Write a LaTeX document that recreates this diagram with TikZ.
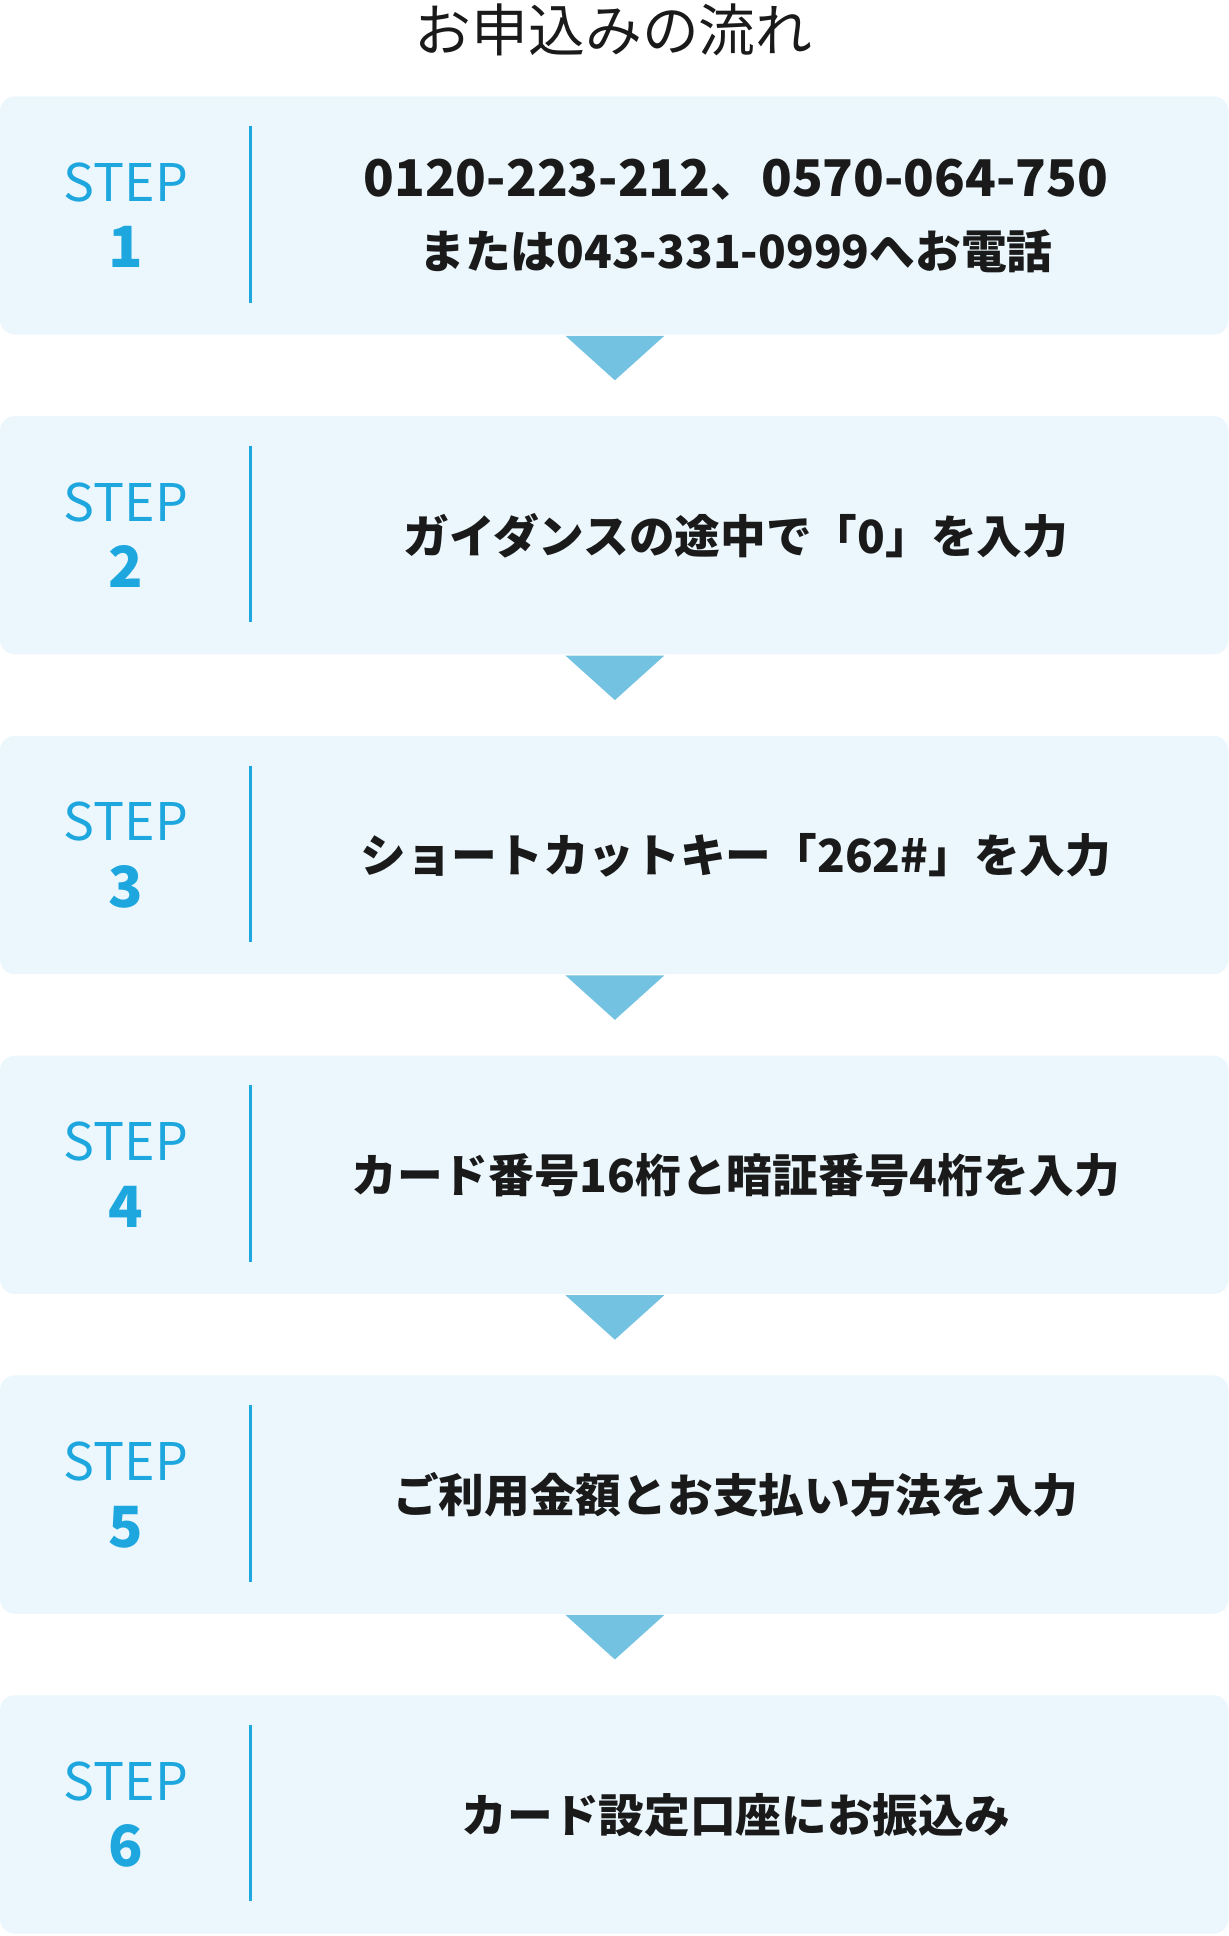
\documentclass[tikz,border=0pt]{standalone}
\usepackage{fontspec}
\newfontfamily\jp{Noto Sans CJK JP}
\definecolor{boxc}{HTML}{EBF7FC}
\definecolor{bluec}{HTML}{1DA7DE}
\definecolor{tric}{HTML}{74C2E1}
\definecolor{txt}{HTML}{1A1A1A}
\begin{document}
\begin{tikzpicture}[x=1pt,y=-1pt,
  box/.style={fill=boxc,rounded corners=12pt,draw=none},
  steplbl/.style={font=\jp\fontsize{42}{44}\selectfont,text=bluec,anchor=base},
  num/.style={font=\jp\bfseries\fontsize{46}{48}\selectfont,text=bluec,anchor=base},
  main/.style={font=\jp\bfseries\fontsize{37}{58}\selectfont,text=txt,align=center},
  tri/.style={fill=tric,draw=none}]
\useasboundingbox (0,0) rectangle (995,1568);
\node[font=\jp\fontsize{46}{48}\selectfont,text=txt] (title) at (497,24) {お申込みの流れ};
\foreach \i/\t in {1/{\fontsize{41}{58}\selectfont 0120-223-212、0570-064-750\\\fontsize{37}{58}\selectfont または043-331-0999へお電話},
  2/{ガイダンスの途中で「0」を入力},
  3/{ショートカットキー「262\#」を入力},
  4/{カード番号16桁と暗証番号4桁を入力},
  5/{ご利用金額とお支払い方法を入力},
  6/{カード設定口座にお振込み}}{
  \pgfmathsetmacro{\y}{78+(\i-1)*259}
  \fill[box] (0,\y) rectangle (995,\y+193);
  \draw[bluec,line width=2pt] (203,\y+24) -- (203,\y+167);
  \node[steplbl] (s\i) at (102,\y+85) {STEP};
  \node[num] (n\i) at (102,\y+139) {\i};
  \node[main] (t\i) at (596,\y+97) {\t};
  \ifnum\i<6 \fill[tri] (458,\y+194) -- (538,\y+194) -- (498,\y+230) -- cycle; \fi
}
\end{tikzpicture}
\end{document}
